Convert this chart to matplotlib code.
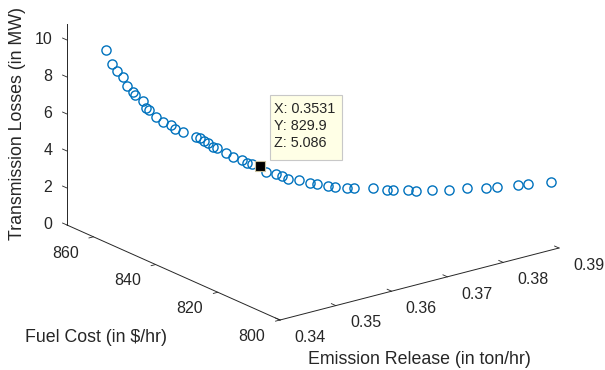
import numpy as np
import matplotlib
matplotlib.use('agg')
import matplotlib.pyplot as plt
from matplotlib.patches import Rectangle
from mpl_toolkits.mplot3d import proj3d

plt.rcParams['font.family'] = ['Liberation Sans', 'DejaVu Sans']

# Pareto front: emission (ton/hr), fuel cost ($/hr), transmission losses (MW)
emission = [0.3400, 0.3405, 0.3409, 0.3414, 0.3417, 0.3422, 0.3423, 0.3430, 0.3432, 0.3435,
            0.3440, 0.3446, 0.3453, 0.3456, 0.3463, 0.3474, 0.3477, 0.3481, 0.3484, 0.3489,
            0.3492, 0.3500, 0.3506, 0.3514, 0.3519, 0.3524, 0.3531, 0.3536, 0.3546, 0.3552,
            0.3557, 0.3568, 0.3579, 0.3586, 0.3597, 0.3604, 0.3616, 0.3624, 0.3644, 0.3660,
            0.3666, 0.3684, 0.3693, 0.3712, 0.3734, 0.3757, 0.3783, 0.3799, 0.3831, 0.3847,
            0.3886]
fuel_cost = [856.0, 854.9, 854.0, 852.9, 852.2, 851.1, 850.8, 849.4, 848.9, 848.3,
             847.1, 845.9, 844.5, 843.8, 842.5, 840.3, 839.6, 838.9, 838.3, 837.5,
             836.8, 835.3, 834.2, 832.8, 832.0, 831.2, 829.9, 829.0, 827.5, 826.5,
             825.6, 824.0, 822.4, 821.4, 819.9, 818.9, 817.3, 816.3, 813.9, 812.2,
             811.5, 809.7, 808.9, 807.2, 805.5, 804.0, 802.5, 801.8, 800.7, 800.4,
             800.0]
losses = [10.40, 9.69, 9.34, 9.06, 8.60, 8.32, 8.17, 7.91, 7.55, 7.46,
          7.13, 6.90, 6.79, 6.60, 6.49, 6.30, 6.27, 6.13, 6.04, 5.85,
          5.82, 5.60, 5.42, 5.30, 5.16, 5.13, 5.086, 4.76, 4.70, 4.61,
          4.48, 4.46, 4.33, 4.30, 4.22, 4.19, 4.16, 4.17, 4.19, 4.09,
          4.09, 4.09, 4.03, 4.06, 4.02, 4.06, 3.96, 3.95, 3.89, 3.85,
          3.68]
tip_index = 26

x_ticks = [0.34, 0.35, 0.36, 0.37, 0.38, 0.39]
y_ticks = [800, 820, 840, 860]
z_ticks = [0, 2, 4, 6, 8, 10]
x_lim = (0.34, 0.39)
y_lim = (800, 868.5)
z_lim = (0, 10.85)

W, H = 605, 370
fig = plt.figure(figsize=(W / 100, H / 100), dpi=100)
ax = fig.add_axes([0, 0, 1, 1], projection='3d')
ax.set_proj_type('ortho')
ax.view_init(elev=19.83, azim=-127.26)
ax.set_box_aspect((350.6, 351.9, 213.4))
ax.computed_zorder = False

ax.plot(emission, fuel_cost, losses, linestyle='none', marker='o', ms=6.6,
        mfc='none', mec='#0072BD', mew=1.0, zorder=2)
ax.plot([emission[tip_index]], [fuel_cost[tip_index]], [losses[tip_index]],
        linestyle='none', marker='s', ms=7, mfc='black', mec='#c8c0a0', mew=0.8, zorder=3)

ax.set_xlim(*x_lim)
ax.set_ylim(*y_lim)
ax.set_zlim(*z_lim)
ax.set_xticks(x_ticks)
ax.set_xticklabels(['%.2f' % t for t in x_ticks])
ax.set_yticks(y_ticks)
ax.set_yticklabels([str(t) for t in y_ticks])
ax.set_zticks(z_ticks)
ax.set_zticklabels([str(t) for t in z_ticks])
ax.grid(False)
ax.tick_params(labelsize=11.5, colors='#262626', width=0.6)
ax.tick_params(axis='x', pad=19.5)
ax.tick_params(axis='y', pad=11.7)
ax.tick_params(axis='z', pad=-2.1)
for axis in (ax.xaxis, ax.yaxis, ax.zaxis):
    axis.set_pane_color((1, 1, 1, 0))
    axis.pane.set_edgecolor((1, 1, 1, 0))
    axis.line.set_color('#262626')
    axis.line.set_linewidth(0.7)
    axis._axinfo['tick']['linewidth'] = {True: 0.6, False: 0.4}
ax.xaxis._axinfo['tick']['inward_factor'] = 0.0
ax.xaxis._axinfo['tick']['outward_factor'] = 0.26
ax.yaxis._axinfo['tick']['inward_factor'] = 0.2
ax.yaxis._axinfo['tick']['outward_factor'] = 0.0
ax.zaxis._axinfo['tick']['inward_factor'] = 0.0
ax.zaxis._axinfo['tick']['outward_factor'] = 0.26
# MATLAB style: z ticks run along y, tick labels pushed off sideways
ax.zaxis._get_tickdir = lambda position: 1
ax.xaxis._axmask = lambda: (0.0, 1.0, 0.14)
ax.yaxis._axmask = lambda: (1.0, 0.0, 0.45)
for lab in ax.get_xticklabels() + ax.get_yticklabels():
    lab.set_va('center')
for lab in ax.get_zticklabels():
    lab.set_va('center')
    lab.set_ha('right')


def corners_px():
    fig.canvas.draw()
    M = ax.get_proj()
    xs = np.array([x_lim[0], x_lim[1], x_lim[0], x_lim[0]])
    ys = np.array([y_lim[0], y_lim[0], y_lim[1], y_lim[1]])
    zs = np.array([z_lim[0], z_lim[0], z_lim[0], z_lim[1]])
    x2, y2, _ = proj3d.proj_transform(xs, ys, zs, M)
    return ax.transData.transform(np.column_stack([x2, y2]))


# fit the projected box onto the reference corners
for _ in range(3):
    c = corners_px()
    bb = ax.get_position(original=False)
    side = bb.width * W
    cx, cy = (bb.x0 + bb.width / 2) * W, (bb.y0 + bb.height / 2) * H
    f = (559 - 67) / (c[1, 0] - c[2, 0])
    ncx = 280 - f * (c[0, 0] - cx)
    ncy = (H - 320) - f * (c[0, 1] - cy)
    ns = side * f
    ax.set_position([(ncx - ns / 2) / W, (ncy - ns / 2) / H, ns / W, ns / H])

lab = dict(fontsize=12.8, color='#262626')
fig.text(96 / W, 1 - 337 / H, 'Fuel Cost (in $/hr)', ha='center', va='center', **lab)
fig.text(419 / W, 1 - 360 / H, 'Emission Release (in ton/hr)', ha='center', va='center', **lab)
fig.text(18 / W, 1 - 124 / H, 'Transmission Losses (in MW)', ha='center', va='center',
         rotation=90, **lab)

# data tip
fig.add_artist(Rectangle((270 / W, 1 - 160 / H), 72 / W, 65 / H, transform=fig.transFigure,
                         facecolor='#ffffe6', edgecolor='#c8c8c8', lw=0.8))
tip_text = 'X: %.4f\nY: %.1f\nZ: %.3f' % (emission[tip_index], fuel_cost[tip_index],
                                            losses[tip_index])
fig.text(274 / W, 1 - 102 / H, tip_text, ha='left', va='top',
         fontsize=10.4, color='#262626', linespacing=1.28)

fig.savefig('out.png', dpi=100)
plt.close(fig)
